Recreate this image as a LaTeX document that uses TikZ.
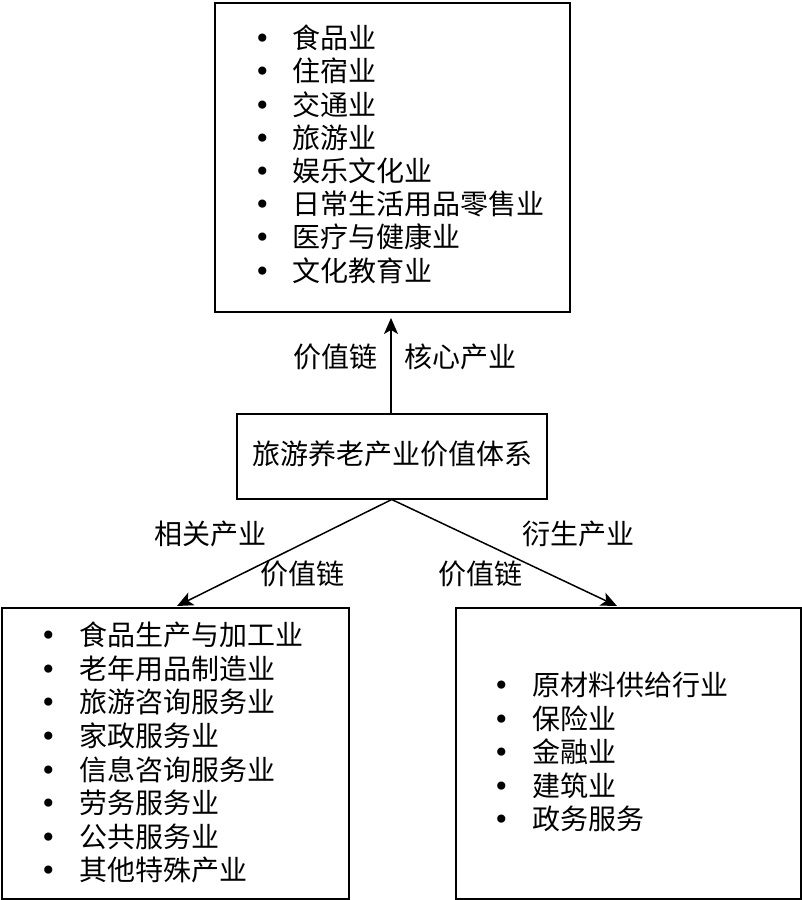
\documentclass[tikz,border=0pt]{standalone}
\usepackage{fontspec}
\setmainfont{Noto Sans CJK SC}
\newfontfamily\dvfont{DejaVu Sans}
\usetikzlibrary{arrows.meta}
\newcommand\blt{\makebox[0pt]{\dvfont •}}
\begin{document}
\begin{tikzpicture}[x=0.5pt,y=-0.5pt,
  box/.style={draw,line width=0.75pt,inner sep=0pt,anchor=north west},
  item/.style={anchor=west,inner sep=0pt,text height=0.88em,text depth=0.12em},
  lbl/.style={inner sep=0pt,text height=0.88em,text depth=0.12em},
  arr/.style={line width=0.75pt,-{Stealth[length=8pt,width=7pt,inset=2pt]}},
  every node/.append style={font=\fontsize{14pt}{16.7pt}\selectfont}]
\useasboundingbox (0,0) rectangle (802,900);
% boxes
\node[box,minimum width=177.5pt,minimum height=154.5pt] (topbox) at (214,2) {};
\node[box,minimum width=155pt,minimum height=42.5pt] (mid) at (236,413) {};
\node[box,minimum width=173.5pt,minimum height=145.5pt] (lbox) at (1,607) {};
\node[box,minimum width=172.5pt,minimum height=145.5pt] (rbox) at (455,607) {};
\node[lbl] (midtext) at (392,457) {旅游养老产业价值体系};
% top list
\foreach \t [count=\i] in {食品业,住宿业,交通业,旅游业,娱乐文化业,日常生活用品零售业,医疗与健康业,文化教育业}
  \node[item] (top\i) at (262,{41+33.2*(\i-1)}) {\blt\hspace{15pt}\t};
% left list
\foreach \t [count=\i] in {食品生产与加工业,老年用品制造业,旅游咨询服务业,家政服务业,信息咨询服务业,劳务服务业,公共服务业,其他特殊产业}
  \node[item] (left\i) at (48,{638+33.6*(\i-1)}) {\blt\hspace{15.5pt}\t};
% right list
\foreach \t [count=\i] in {原材料供给行业,保险业,金融业,建筑业,政务服务}
  \node[item] (right\i) at (501,{688+33.5*(\i-1)}) {\blt\hspace{15.5pt}\t};
% connectors
\coordinate (uptip) at (391,318);
\coordinate (ltip) at (177,606);
\coordinate (rtip) at (617,606);
\draw[arr] (mid.north -| uptip) -- (uptip);
\draw[arr] (mid.south) -- (ltip);
\draw[arr] (mid.south) -- (rtip);
% labels
\node[lbl] (l1) at (335,360) {价值链};
\node[lbl] (l2) at (460,360) {核心产业};
\node[lbl] (l3) at (210,537) {相关产业};
\node[lbl] (l4) at (302,577) {价值链};
\node[lbl] (l5) at (480,577) {价值链};
\node[lbl] (l6) at (578,537) {衍生产业};
\end{tikzpicture}
\end{document}
